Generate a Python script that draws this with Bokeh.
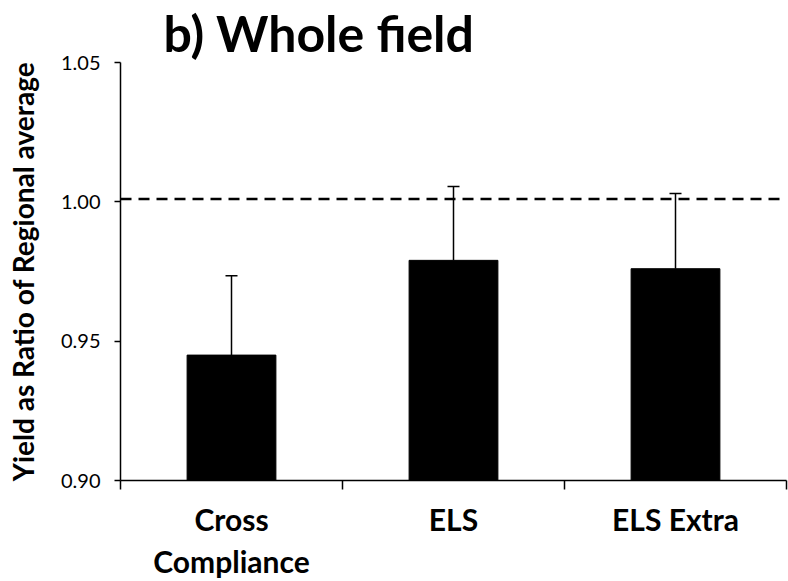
from bokeh.plotting import figure
from bokeh.models import Range1d, FixedTicker, Span, Whisker, ColumnDataSource, TeeHead, NumeralTickFormatter
from bokeh.embed import file_html
from bokeh.resources import INLINE

# Yield relative to the regional average, by scheme
categories = ["Cross\nCompliance", "ELS", "ELS Extra"]
mean_ratio = [0.945, 0.979, 0.976]
std_error = [0.0285, 0.0265, 0.027]
reference_level = 1.001
y_ticks = [0.90, 0.95, 1.00, 1.05]
title_text = "b) Whole field"

FONT = "Lato"

x_pos = [i + 0.5 for i in range(len(categories))]
upper = [m + e for m, e in zip(mean_ratio, std_error)]
src = ColumnDataSource(dict(x=x_pos, top=mean_ratio, upper=upper))

p = figure(width=788, height=581, output_backend="svg", toolbar_location=None,
           x_range=Range1d(0, len(categories)), y_range=Range1d(y_ticks[0], y_ticks[-1]),
           min_border_left=120, min_border_right=2, min_border_top=50, min_border_bottom=100)

p.title.text = title_text
p.title.text_font = FONT
p.title.text_font_size = "50px"
p.title.text_font_style = "bold"
p.title.text_color = "black"
p.title.text_line_height = 0.8
p.title.align = "left"
p.title.offset = 43
p.title.standoff = 0

p.outline_line_color = None
p.xgrid.visible = False
p.ygrid.visible = False
p.background_fill_color = "white"
p.border_fill_color = "white"

p.vbar(x="x", top="top", bottom=y_ticks[0], width=0.4, source=src,
       fill_color="black", line_color="black")

p.add_layout(Whisker(source=src, base="x", upper="upper", lower="top",
                     line_color="black", line_width=1.5,
                     upper_head=TeeHead(size=12, line_color="black", line_width=1.5),
                     lower_head=None))

p.add_layout(Span(location=reference_level, dimension="width", line_color="black",
                  line_width=2.5, line_dash="11 7"))

# y axis
ya = p.yaxis[0]
ya.ticker = FixedTicker(ticks=y_ticks, minor_ticks=[])
ya.formatter = NumeralTickFormatter(format="0.00")
ya.axis_label = "Yield as Ratio of Regional average"
ya.axis_label_text_font = FONT
ya.axis_label_text_font_style = "bold"
ya.axis_label_text_font_size = "28px"
ya.axis_label_text_color = "black"
ya.axis_label_standoff = 18
ya.major_label_text_font = FONT
ya.major_label_text_font_size = "20px"
ya.major_label_text_color = "black"
ya.major_label_standoff = 14
ya.major_tick_out = 6
ya.major_tick_in = 0
ya.axis_line_width = 1.5
ya.major_tick_line_width = 1.5

# x axis: labels at bar centres, tick marks between categories
xa = p.xaxis[0]
xa.ticker = FixedTicker(ticks=x_pos, minor_ticks=list(range(len(categories) + 1)))
xa.major_label_overrides = {x: c for x, c in zip(x_pos, categories)}
xa.major_label_text_font = FONT
xa.major_label_text_font_style = "bold"
xa.major_label_text_font_size = "30px"
xa.major_label_text_line_height = 1.18
xa.major_label_text_color = "black"
xa.major_label_standoff = 11
xa.major_tick_out = 0
xa.major_tick_in = 0
xa.minor_tick_out = 9
xa.minor_tick_in = 0
xa.minor_tick_line_color = "black"
xa.minor_tick_line_width = 1.5
xa.axis_line_width = 1.5

open("out.html", "w").write(file_html(p, INLINE))
